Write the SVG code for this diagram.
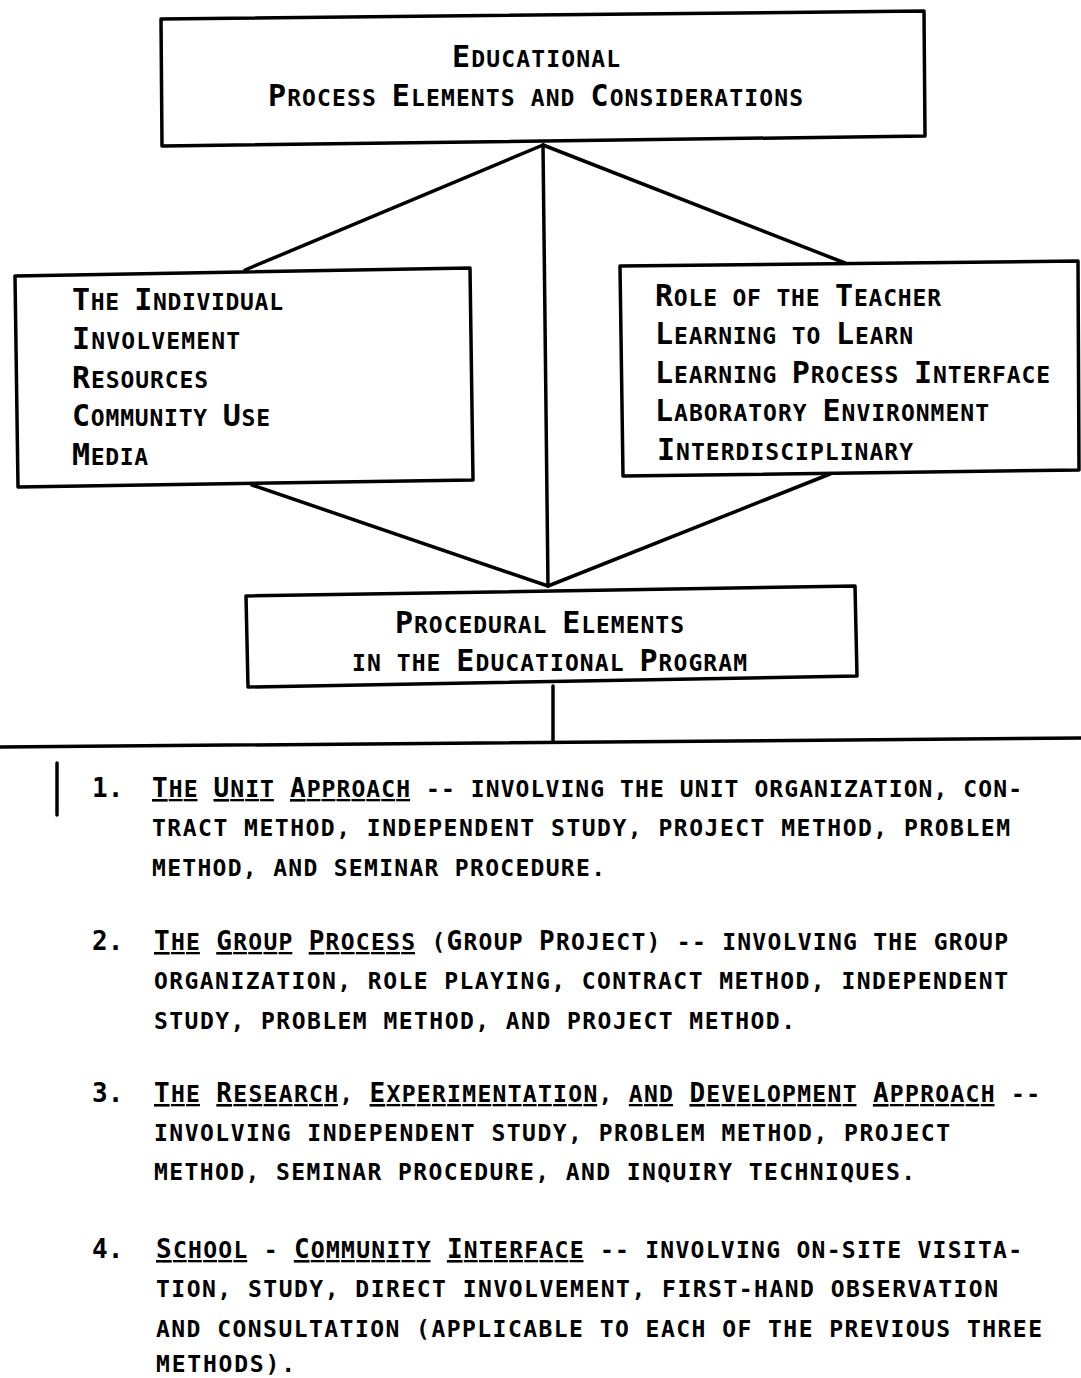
<svg xmlns="http://www.w3.org/2000/svg" width="1081" height="1378" viewBox="0 0 1081 1378">
<style>
.box{fill:#fff;stroke:#000;stroke-width:3.5;stroke-linejoin:round}
.ln{stroke:#000;stroke-width:3.5;fill:none;stroke-linecap:round}
.h,.b{font-family:"DejaVu Sans Mono","Liberation Mono",monospace;font-size:23px;fill:#000;font-weight:bold}
.i{font-size:30px}
.j{font-size:26px}
.u{text-decoration:underline}
</style>
<rect width="1081" height="1378" fill="#fff"/>
<g id="connectors">
<line class="ln" x1="543" y1="145" x2="245" y2="270"/>
<line class="ln" x1="543" y1="145" x2="548" y2="586"/>
<line class="ln" x1="543" y1="145" x2="845" y2="263"/>
<line class="ln" x1="252" y1="485" x2="548" y2="586"/>
<line class="ln" x1="830" y1="474" x2="548" y2="586"/>
<line class="ln" x1="553" y1="686" x2="553" y2="741"/>
<line class="ln" x1="0" y1="747" x2="1081" y2="738"/>
<line class="ln" x1="57" y1="763" x2="57" y2="815"/>
</g>
<g id="node-top">
<polygon class="box" points="161,19 924,11 925,136 162,146"/>
<text class="h" x="452" y="67" textLength="168" lengthAdjust="spacing"><tspan class="i">E</tspan>DUCATIONAL</text>
<text class="h" x="268" y="106" textLength="535" lengthAdjust="spacing"><tspan class="i">P</tspan>ROCESS <tspan class="i">E</tspan>LEMENTS AND <tspan class="i">C</tspan>ONSIDERATIONS</text>
</g>
<g id="node-left">
<polygon class="box" points="15,276 470,268 473,480 18,487"/>
<text class="h" x="72" y="310" textLength="211" lengthAdjust="spacing"><tspan class="i">T</tspan>HE <tspan class="i">I</tspan>NDIVIDUAL</text>
<text class="h" x="72" y="349" textLength="168" lengthAdjust="spacing"><tspan class="i">I</tspan>NVOLVEMENT</text>
<text class="h" x="72" y="388" textLength="136" lengthAdjust="spacing"><tspan class="i">R</tspan>ESOURCES</text>
<text class="h" x="72" y="426" textLength="198" lengthAdjust="spacing"><tspan class="i">C</tspan>OMMUNITY <tspan class="i">U</tspan>SE</text>
<text class="h" x="72" y="465" textLength="76" lengthAdjust="spacing"><tspan class="i">M</tspan>EDIA</text>
</g>
<g id="node-right">
<polygon class="box" points="620,266 1078,261 1079,470 623,476"/>
<text class="h" x="655" y="306" textLength="286" lengthAdjust="spacing"><tspan class="i">R</tspan>OLE OF THE <tspan class="i">T</tspan>EACHER</text>
<text class="h" x="655" y="344" textLength="258" lengthAdjust="spacing"><tspan class="i">L</tspan>EARNING TO <tspan class="i">L</tspan>EARN</text>
<text class="h" x="655" y="383" textLength="395" lengthAdjust="spacing"><tspan class="i">L</tspan>EARNING <tspan class="i">P</tspan>ROCESS <tspan class="i">I</tspan>NTERFACE</text>
<text class="h" x="655" y="421" textLength="334" lengthAdjust="spacing"><tspan class="i">L</tspan>ABORATORY <tspan class="i">E</tspan>NVIRONMENT</text>
<text class="h" x="657" y="460" textLength="256" lengthAdjust="spacing"><tspan class="i">I</tspan>NTERDISCIPLINARY</text>
</g>
<g id="node-bottom">
<polygon class="box" points="246,596 855,586 857,676 248,687"/>
<text class="h" x="395" y="633" textLength="289" lengthAdjust="spacing"><tspan class="i">P</tspan>ROCEDURAL <tspan class="i">E</tspan>LEMENTS</text>
<text class="h" x="352" y="671" textLength="395" lengthAdjust="spacing">IN THE <tspan class="i">E</tspan>DUCATIONAL <tspan class="i">P</tspan>ROGRAM</text>
</g>
<g id="list">
<text class="b" x="92" y="797"><tspan class="j">1.</tspan></text>
<text class="b" x="152" y="797" textLength="870" lengthAdjust="spacing"><tspan class="u"><tspan class="j">T</tspan>HE</tspan> <tspan class="u"><tspan class="j">U</tspan>NIT</tspan> <tspan class="u"><tspan class="j">A</tspan>PPROACH</tspan> -- INVOLVING THE UNIT ORGANIZATION, CON-</text>
<text class="b" x="152" y="836" textLength="858" lengthAdjust="spacing">TRACT METHOD, INDEPENDENT STUDY, PROJECT METHOD, PROBLEM</text>
<text class="b" x="152" y="876" textLength="453" lengthAdjust="spacing">METHOD, AND SEMINAR PROCEDURE.</text>
<text class="b" x="92" y="950"><tspan class="j">2.</tspan></text>
<text class="b" x="154" y="950" textLength="854" lengthAdjust="spacing"><tspan class="u"><tspan class="j">T</tspan>HE</tspan> <tspan class="u"><tspan class="j">G</tspan>ROUP</tspan> <tspan class="u"><tspan class="j">P</tspan>ROCESS</tspan> (<tspan class="j">G</tspan>ROUP <tspan class="j">P</tspan>ROJECT) -- INVOLVING THE GROUP</text>
<text class="b" x="154" y="989" textLength="854" lengthAdjust="spacing">ORGANIZATION, ROLE PLAYING, CONTRACT METHOD, INDEPENDENT</text>
<text class="b" x="154" y="1029" textLength="641" lengthAdjust="spacing">STUDY, PROBLEM METHOD, AND PROJECT METHOD.</text>
<text class="b" x="92" y="1102"><tspan class="j">3.</tspan></text>
<text class="b" x="154" y="1102" textLength="886" lengthAdjust="spacing"><tspan class="u"><tspan class="j">T</tspan>HE</tspan> <tspan class="u"><tspan class="j">R</tspan>ESEARCH</tspan>, <tspan class="u"><tspan class="j">E</tspan>XPERIMENTATION</tspan>, <tspan class="u">AND</tspan> <tspan class="u"><tspan class="j">D</tspan>EVELOPMENT</tspan> <tspan class="u"><tspan class="j">A</tspan>PPROACH</tspan> --</text>
<text class="b" x="154" y="1141" textLength="796" lengthAdjust="spacing">INVOLVING INDEPENDENT STUDY, PROBLEM METHOD, PROJECT</text>
<text class="b" x="154" y="1180" textLength="761" lengthAdjust="spacing">METHOD, SEMINAR PROCEDURE, AND INQUIRY TECHNIQUES.</text>
<text class="b" x="92" y="1258"><tspan class="j">4.</tspan></text>
<text class="b" x="156" y="1258" textLength="866" lengthAdjust="spacing"><tspan class="u"><tspan class="j">S</tspan>CHOOL</tspan> - <tspan class="u"><tspan class="j">C</tspan>OMMUNITY</tspan> <tspan class="u"><tspan class="j">I</tspan>NTERFACE</tspan> -- INVOLVING ON-SITE VISITA-</text>
<text class="b" x="156" y="1297" textLength="842" lengthAdjust="spacing">TION, STUDY, DIRECT INVOLVEMENT, FIRST-HAND OBSERVATION</text>
<text class="b" x="156" y="1337" textLength="886" lengthAdjust="spacing">AND CONSULTATION (APPLICABLE TO EACH OF THE PREVIOUS THREE</text>
<text class="b" x="156" y="1372" textLength="139" lengthAdjust="spacing">METHODS).</text>
</g>
</svg>
